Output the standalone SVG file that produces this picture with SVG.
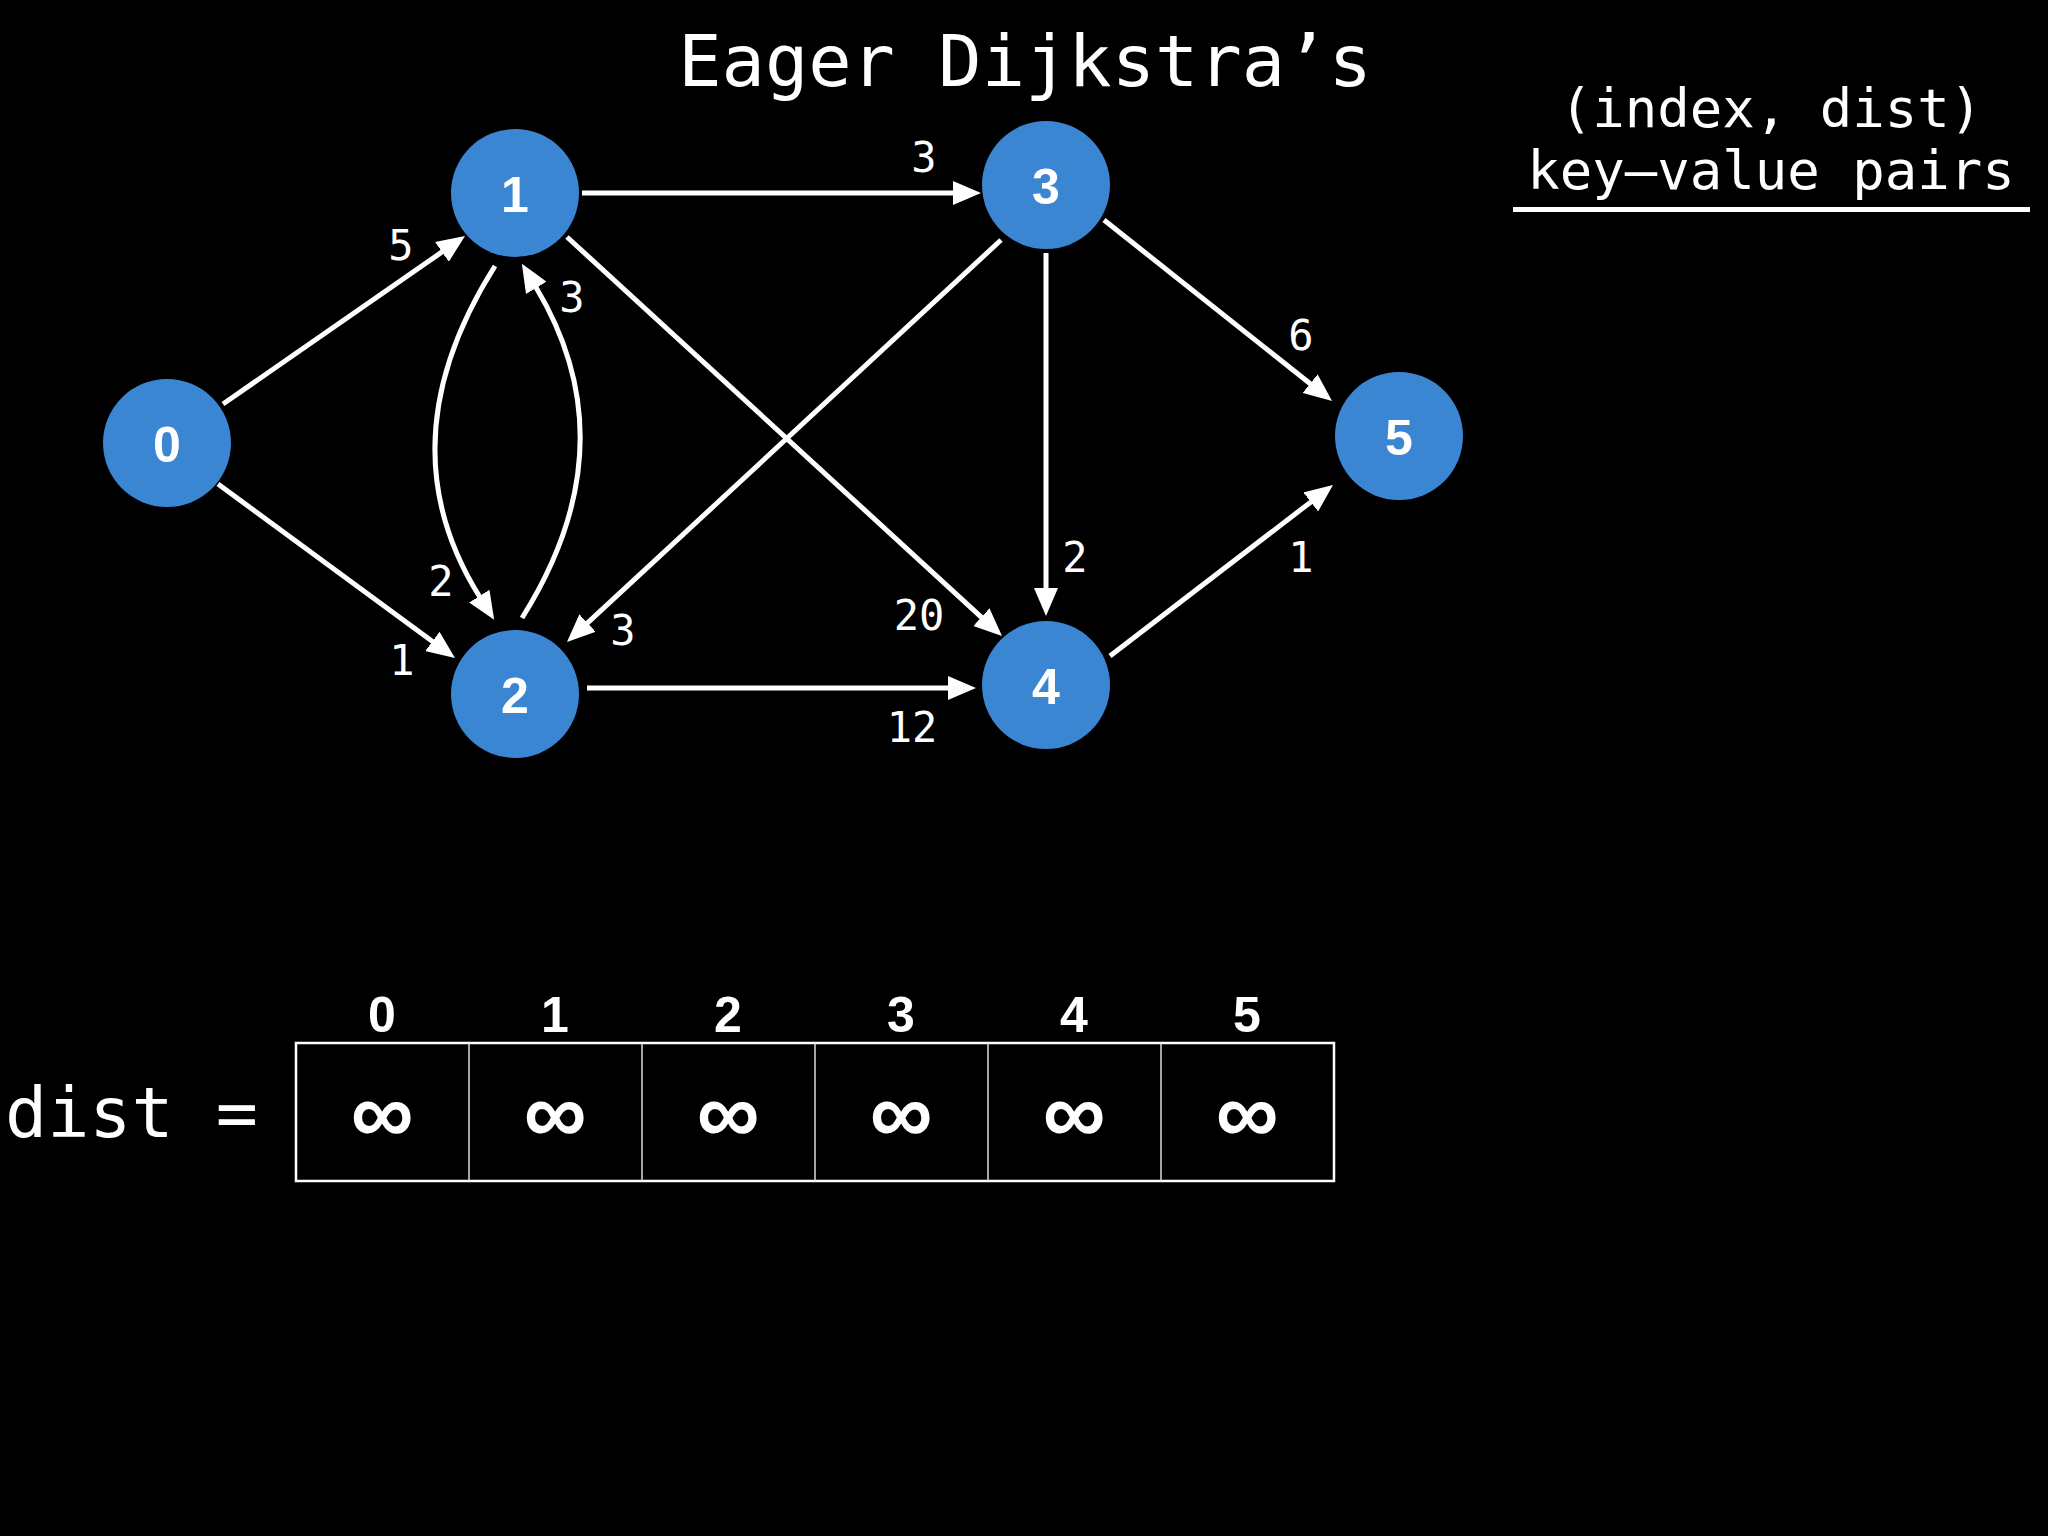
<svg xmlns="http://www.w3.org/2000/svg" width="2048" height="1536" viewBox="0 0 2048 1536">
<defs>
<marker id="ah" markerUnits="userSpaceOnUse" markerWidth="30" markerHeight="24" viewBox="0 0 30 24" refX="1" refY="12" orient="auto">
<path d="M0,0 L28,12 L0,24 z" fill="#ffffff"/>
</marker>
<style>
.node circle{fill:#3b86d2}
.node text{font-family:"Liberation Sans",Arial,sans-serif;font-weight:bold;font-size:50px;fill:#fff;text-anchor:middle}
.edge{stroke:#fff;stroke-width:5;fill:none;marker-end:url(#ah)}
.lbl{font-family:"DejaVu Sans Mono","Liberation Mono",monospace;font-size:42px;fill:#fff;text-anchor:middle}
.mono{font-family:"DejaVu Sans Mono","Liberation Mono",monospace;fill:#fff}
.hdr{font-family:"Liberation Sans",Arial,sans-serif;font-weight:bold;font-size:50px;fill:#fff;text-anchor:middle}
.inf{font-family:"Liberation Sans",Arial,sans-serif;font-weight:bold;font-size:88px;fill:#fff;text-anchor:middle}
</style>
</defs>
<rect width="2048" height="1536" fill="#000"/>
<text class="mono" x="1025" y="86" font-size="72" text-anchor="middle">Eager Dijkstra’s</text>
<g id="legend">
<text class="mono" x="1771" y="127" font-size="54" text-anchor="middle">(index, dist)</text>
<text class="mono" x="1771" y="189" font-size="54" text-anchor="middle">key–value pairs</text>
<rect x="1513" y="207" width="517" height="5" fill="#fff"/>
</g>
<g id="connectors">
<path class="edge" d="M223,404 L442.8,251.4"/>
<path class="edge" d="M218,484 L433.2,642"/>
<path class="edge" d="M582,193 L954,193"/>
<path class="edge" d="M567,237 L982.1,617.8"/>
<path class="edge" d="M1001,240 L586.8,623.7"/>
<path class="edge" d="M587,688 L949,688"/>
<path class="edge" d="M1046,253 L1046,589"/>
<path class="edge" d="M1104,220 L1310.9,384.2"/>
<path class="edge" d="M1110,656 L1311.6,501.4"/>
<path class="edge" d="M495,266 Q383,443 479.8,597"/>
<path class="edge" d="M522,618 Q631,445 535.8,287"/>
<text class="lbl" x="401" y="260">5</text>
<text class="lbl" x="572" y="312">3</text>
<text class="lbl" x="441" y="596">2</text>
<text class="lbl" x="402" y="675">1</text>
<text class="lbl" x="623" y="645">3</text>
<text class="lbl" x="924" y="172">3</text>
<text class="lbl" x="1301" y="350">6</text>
<text class="lbl" x="1075" y="572">2</text>
<text class="lbl" x="1301" y="572">1</text>
<text class="lbl" x="919" y="630">20</text>
<text class="lbl" x="912" y="742">12</text>
</g>
<g id="node0" class="node"><circle cx="167" cy="443" r="64"/><text x="167" y="462">0</text></g>
<g id="node1" class="node"><circle cx="515" cy="193" r="64"/><text x="515" y="212">1</text></g>
<g id="node2" class="node"><circle cx="515" cy="694" r="64"/><text x="515" y="713">2</text></g>
<g id="node3" class="node"><circle cx="1046" cy="185" r="64"/><text x="1046" y="204">3</text></g>
<g id="node4" class="node"><circle cx="1046" cy="685" r="64"/><text x="1046" y="704">4</text></g>
<g id="node5" class="node"><circle cx="1399" cy="436" r="64"/><text x="1399" y="455">5</text></g>
<g id="dist-array">
<text class="mono" x="5" y="1137" font-size="70">dist =</text>
<rect x="296" y="1043" width="1038" height="138" fill="none" stroke="#fff" stroke-width="2.5"/>
<g stroke="#ddd" stroke-width="1.5">
<line x1="469" y1="1043" x2="469" y2="1181"/>
<line x1="642" y1="1043" x2="642" y2="1181"/>
<line x1="815" y1="1043" x2="815" y2="1181"/>
<line x1="988" y1="1043" x2="988" y2="1181"/>
<line x1="1161" y1="1043" x2="1161" y2="1181"/>
</g>
<text class="hdr" x="382" y="1032">0</text>
<text class="hdr" x="555" y="1032">1</text>
<text class="hdr" x="728" y="1032">2</text>
<text class="hdr" x="901" y="1032">3</text>
<text class="hdr" x="1074" y="1032">4</text>
<text class="hdr" x="1247" y="1032">5</text>
<text class="inf" x="382" y="1143">∞</text>
<text class="inf" x="555" y="1143">∞</text>
<text class="inf" x="728" y="1143">∞</text>
<text class="inf" x="901" y="1143">∞</text>
<text class="inf" x="1074" y="1143">∞</text>
<text class="inf" x="1247" y="1143">∞</text>
</g>
</svg>
